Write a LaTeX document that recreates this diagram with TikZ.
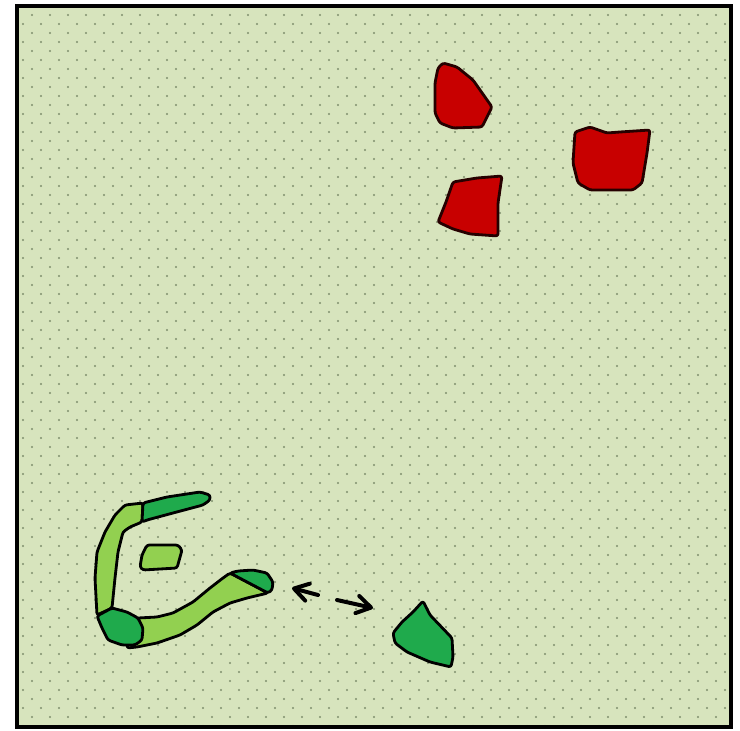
\documentclass[tikz,border=0pt]{standalone}
\usepackage{xcolor}
\usepackage{tikz}
\usetikzlibrary{arrows.meta}

\definecolor{fieldbg}{HTML}{D7E4BD}
\definecolor{fielddot}{HTML}{7F8F6D}
\definecolor{blobred}{HTML}{C80000}
\definecolor{blobdark}{HTML}{1FAA4C}
\definecolor{bloblight}{HTML}{92D050}

\begin{document}
\begin{tikzpicture}[
    x=0.03cm, y=-0.03cm,
    region/.style={
        draw=black,
        line width=2.4pt,
        rounded corners=2pt,
        line join=round
    },
    redblob/.style={region, fill=blobred, draw=black!85!red},
    darkblob/.style={region, fill=blobdark},
    lightblob/.style={region, fill=bloblight},
    arrow/.style={
        line width=3.4pt,
        line cap=round,
        -{Straight Barb[length=12pt, width=15pt, round]}
    }
]

\useasboundingbox (0,0) rectangle (740,730);

% Field

\fill[fieldbg] (17,6) rectangle (731,727);
\begin{scope}
\clip (17,6) rectangle (731,727);
\foreach \r in {0,...,79} {
    \foreach \c in {0,...,40} {
        \fill[fielddot] ({14+18*\c+9*mod(\r,2)}, {15+9*\r}) circle[radius=1pt];
    }
}
\end{scope}
\draw[line width=2.8pt] (17,6) rectangle (731,727);


% Red patches

\draw[redblob] (443,63) -- (457,67) -- (473,80) -- (492,107) -- (482,127)
    -- (453,128) -- (440,123) -- (435,113) -- (435,83) -- (438,68) -- cycle;

\draw[redblob] (575,132) -- (590,127) -- (607,133) -- (620,132) -- (650,130)
    -- (647,153) -- (642,183) -- (633,190) -- (590,190) -- (578,183)
    -- (573,163) -- (574,147) -- cycle;

\draw[redblob] (453,182) -- (477,178) -- (502,176) -- (498,203) -- (498,236)
    -- (470,234) -- (453,229) -- (438,222) -- (446,202) -- cycle;


% Green patch, right

\draw[darkblob] (423,601) -- (430,615) -- (452,638) -- (453,657) -- (451,667)
    -- (430,662) -- (407,652) -- (395,643) -- (393,633) -- (402,622)
    -- (413,612) -- cycle;


% Bent patch, left

\draw[lightblob] (143,503) -- (125,505) -- (115,515) -- (105,532) -- (97,552)
    -- (95,578) -- (97,615) -- (112,608) -- (115,578) -- (118,552)
    -- (123,532) -- (130,527) -- (142,522) -- cycle;

\draw[lightblob] (128,620) -- (138,618) -- (157,617) -- (173,613) -- (193,602)
    -- (210,588) -- (223,578) -- (230,573) -- (268,593) -- (247,598)
    -- (230,603) -- (213,612) -- (197,625) -- (180,635) -- (157,643)
    -- (137,647) -- (127,648) -- cycle;

\draw[darkblob] (143,503) -- (167,497) -- (200,492) -- (210,495) -- (210,500)
    -- (203,505) -- (173,513) -- (147,520) -- (142,522) -- cycle;

\draw[darkblob] (97,616) -- (112,608) -- (127,612) -- (138,618) -- (143,628)
    -- (142,640) -- (135,645) -- (122,645) -- (108,640) -- (102,628) -- cycle;

\draw[darkblob] (230,573) -- (238,571) -- (253,570) -- (267,573) -- (273,582)
    -- (272,590) -- (268,593) -- cycle;

\draw[lightblob] (147,545) -- (178,545) -- (182,550) -- (177,568) -- (143,570)
    -- (140,567) -- (142,555) -- cycle;


% Arrows

\coordinate (backtail) at (318,595);
\coordinate (backhead) at (292,588);
\coordinate (fwdtail) at (337,600);
\coordinate (fwdhead) at (373,608);

\draw[arrow] (backtail) -- (backhead);
\draw[arrow] (fwdtail) -- (fwdhead);

\end{tikzpicture}
\end{document}
